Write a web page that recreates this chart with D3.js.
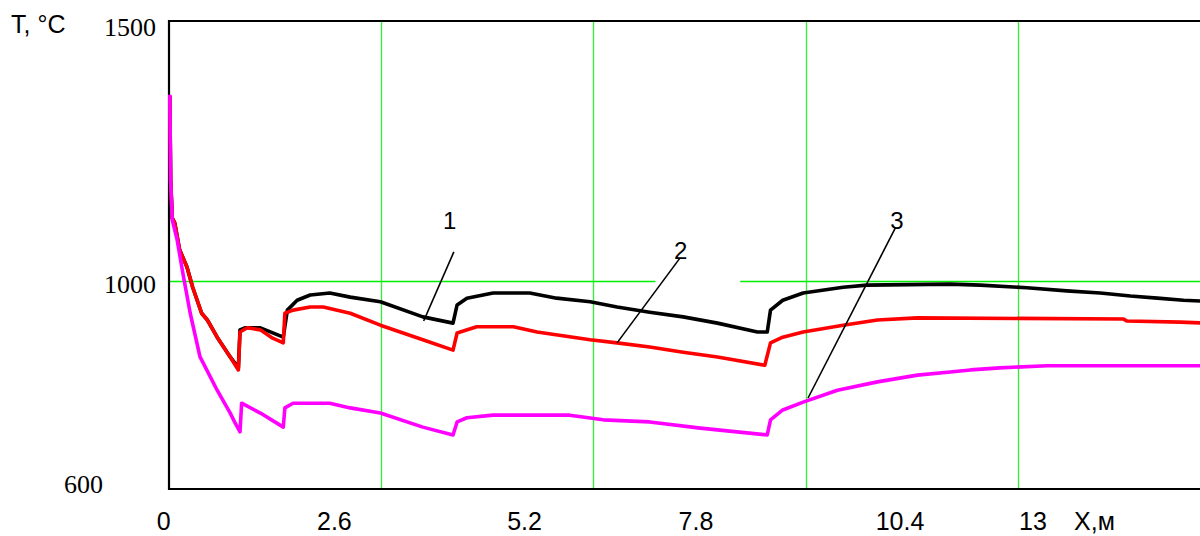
<!DOCTYPE html>
<html>
<head>
<meta charset="utf-8">
<script src="https://cdn.jsdelivr.net/npm/d3@7"></script>
<style>
  body { margin: 0; background: #fff; }
</style>
</head>
<body>
<div id="chart"></div>
<script>
// curve 1 (black), X in m, T in °C
const x1 = [0.01, 0.02, 0.04, 0.07, 0.13, 0.22, 0.29, 0.40, 0.47, 0.59, 0.75, 0.85, 0.87, 0.93, 1.12, 1.40, 1.45, 1.57, 1.73, 1.97, 2.22, 2.59, 3.11, 3.48, 3.53, 3.65, 3.97, 4.42, 4.75, 5.16, 5.49, 5.89, 6.30, 6.72, 7.21, 7.33, 7.37, 7.52, 7.77, 8.26, 8.55, 9.57, 9.94, 10.51, 11.00, 11.41, 11.78, 12.11, 12.43, 12.70]
const t1 = [1356, 1194, 1121, 1112, 1060, 1027, 988, 938, 925, 892, 854, 833, 906, 910, 910, 892, 944, 963, 973, 977, 969, 960, 931, 919, 954, 967, 977, 977, 967, 960, 950, 940, 931, 919, 902, 902, 944, 963, 977, 988, 992, 994, 992, 987, 981, 977, 971, 967, 963, 961]

// curve 2 (red)
const x2 = [0.01, 0.02, 0.04, 0.07, 0.13, 0.22, 0.29, 0.40, 0.47, 0.59, 0.75, 0.85, 0.87, 0.96, 1.12, 1.27, 1.40, 1.42, 1.52, 1.73, 1.89, 2.22, 2.59, 3.11, 3.48, 3.53, 3.77, 4.22, 4.51, 5.16, 5.49, 5.89, 6.30, 6.72, 7.30, 7.37, 7.52, 7.77, 8.26, 8.68, 9.17, 11.69, 11.74, 12.39, 12.70]
const t2 = [1356, 1194, 1121, 1112, 1060, 1027, 988, 938, 925, 892, 854, 829, 902, 910, 906, 890, 881, 938, 944, 950, 950, 938, 915, 887, 867, 900, 912, 912, 902, 887, 881, 873, 863, 854, 838, 881, 892, 902, 915, 925, 929, 927, 923, 921, 919]

// curve 3 (magenta)
const x3 = [0.01, 0.02, 0.04, 0.10, 0.17, 0.26, 0.38, 0.42, 0.59, 0.75, 0.81, 0.87, 0.89, 1.12, 1.40, 1.42, 1.52, 1.97, 2.22, 2.59, 3.11, 3.48, 3.53, 3.65, 3.97, 4.91, 5.32, 5.89, 6.51, 7.33, 7.37, 7.52, 7.77, 8.19, 8.68, 9.17, 9.57, 9.82, 10.18, 10.76, 12.70]
const t3 = [1358, 1194, 1117, 1079, 1015, 938, 854, 842, 790, 746, 727, 710, 765, 746, 719, 756, 765, 765, 756, 746, 719, 704, 729, 737, 742, 742, 733, 729, 717, 704, 733, 752, 767, 790, 806, 819, 825, 829, 833, 837, 837]

const curveColors = ['#000000', '#ff0000', '#ff00ff']

// tick labels (as typed on the original figure) and where they sit
const xLabels = ['0', '2.6', '5.2', '7.8', '10.4', '13']
const xLabelAt = [-0.07, 2.02, 4.35, 6.45, 8.95, 10.58]
const yLabels = ['600', '1000', '1500']
const yLabelAt = [594, 977, 1473]

// grid
const xGrid = [2.6, 5.2, 7.8, 10.4]
const yGrid = [1000]

// curve numbers with leader lines
const notes = [
  {label: '1', x: 3.44, t: 1100, from: [3.49, 1056], to: [3.12, 923]},
  {label: '2', x: 6.27, t: 1042, from: [6.26, 1044], to: [5.49, 881]},
  {label: '3', x: 8.92, t: 1100, from: [8.90, 1102], to: [7.83, 775]}
]

const serif = '"Liberation Serif", "Times New Roman", "DejaVu Serif", serif'
const sans = '"Liberation Sans", Arial, sans-serif'

const c_width = 1200
const c_height = 536
const padLeft = 169, padTop = 21, padBottom = 489, padRight = 1230

const svg = d3.select('#chart')
  .append('svg')
  .attr('width', c_width)
  .attr('height', c_height)

const xScale = d3.scaleLinear().domain([0, 13]).range([padLeft, padRight])
const yScale = d3.scaleLinear().domain([600, 1500]).range([padBottom, padTop])

// gridlines
svg.selectAll('.vgrid')
  .data(xGrid)
  .enter()
  .append('line')
  .attr('x1', d => Math.round(xScale(d)) + 0.5)
  .attr('x2', d => Math.round(xScale(d)) + 0.5)
  .attr('y1', padTop)
  .attr('y2', padBottom)
  .attr('stroke', '#33ee33')
  .attr('stroke-width', 1.3)

svg.selectAll('.hgrid')
  .data(yGrid)
  .enter()
  .append('line')
  .attr('x1', padLeft)
  .attr('x2', c_width)
  .attr('y1', d => Math.round(yScale(d)) + 0.5)
  .attr('y2', d => Math.round(yScale(d)) + 0.5)
  .attr('stroke', '#00ee00')
  .attr('stroke-width', 1.3)

// white box behind label 2 cuts the 1000 gridline
svg.append('rect')
  .attr('x', xScale(5.96))
  .attr('width', xScale(7.0) - xScale(5.96))
  .attr('y', yScale(1012))
  .attr('height', yScale(990) - yScale(1012))
  .attr('fill', '#fff')

// frame
svg.append('path')
  .attr('d', 'M' + c_width + ',' + padTop + 'H' + padLeft + 'V' + padBottom + 'H' + c_width)
  .attr('fill', 'none')
  .attr('stroke', '#000')
  .attr('stroke-width', 2.2)

// curves
const line = d3.line()
  .x(d => xScale(d[0]))
  .y(d => yScale(d[1]))

const series = [d3.zip(x1, t1), d3.zip(x2, t2), d3.zip(x3, t3)]

svg.selectAll('.curve')
  .data(series)
  .enter()
  .append('path')
  .attr('class', 'curve')
  .attr('d', line)
  .attr('fill', 'none')
  .attr('stroke', (d, i) => curveColors[i])
  .attr('stroke-width', 3.6)
  .attr('stroke-linejoin', 'round')

// x axis labels
const xAxis = d3.axisBottom(xScale)
  .tickValues(xLabelAt)
  .tickSize(0)
  .tickFormat((d, i) => xLabels[i])

const gx = svg.append('g')
  .attr('transform', 'translate(0,530)')
  .attr('font-family', null)
  .call(xAxis)
gx.select('.domain').remove()
gx.selectAll('text')
  .attr('y', 0)
  .attr('dy', null)
  .style('font-family', sans)
  .style('font-size', '25px')
  .attr('fill', '#000')

svg.append('text')
  .attr('x', xScale(11.34))
  .attr('y', 530)
  .attr('text-anchor', 'middle')
  .style('font-family', sans)
  .style('font-size', '25px')
  .text('X,м')

// y axis labels
const yAxis = d3.axisLeft(yScale)
  .tickValues(yLabelAt)
  .tickSize(0)
  .tickPadding(0)
  .tickFormat((d, i) => yLabels[i])

const gy = svg.append('g')
  .attr('transform', 'translate(156,0)')
  .call(yAxis)
gy.attr('font-family', serif)
gy.select('.domain').remove()
gy.selectAll('text')
  .attr('dy', null)
  .attr('x', d => d === 594 ? -53 : 0)
  .style('font-family', serif)
  .style('font-size', '26px')
  .attr('fill', '#000')

svg.append('text')
  .attr('x', 11)
  .attr('y', 33)
  .style('font-family', sans)
  .style('font-size', '25px')
  .text('T, °C')

// curve numbers
svg.selectAll('.leader')
  .data(notes)
  .enter()
  .append('line')
  .attr('x1', d => xScale(d.from[0]))
  .attr('y1', d => yScale(d.from[1]))
  .attr('x2', d => xScale(d.to[0]))
  .attr('y2', d => yScale(d.to[1]))
  .attr('stroke', '#000')
  .attr('stroke-width', 1.6)

svg.selectAll('.note')
  .data(notes)
  .enter()
  .append('text')
  .attr('x', d => xScale(d.x))
  .attr('y', d => yScale(d.t))
  .attr('text-anchor', 'middle')
  .style('font-family', sans)
  .style('font-size', '24px')
  .text(d => d.label)
</script>
</body>
</html>
